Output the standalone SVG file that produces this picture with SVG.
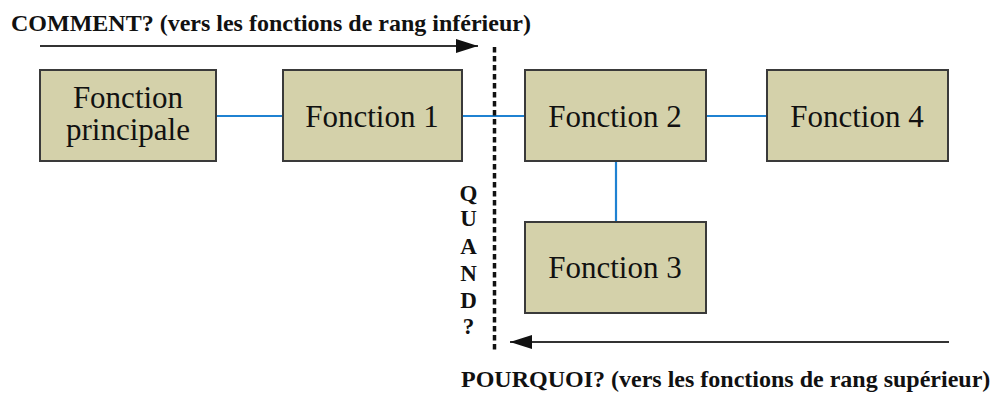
<svg xmlns="http://www.w3.org/2000/svg" width="992" height="394" viewBox="0 0 992 394">
<style>
.box{fill:#d4d1aa;stroke:#3a3a3a;stroke-width:2}
.lbl{font-family:"Liberation Serif","Times New Roman",serif;font-size:31px;fill:#111;text-anchor:middle}
.hdr{font-family:"Liberation Serif","Times New Roman",serif;font-size:24px;font-weight:bold;fill:#111}
.q{font-family:"Liberation Serif","Times New Roman",serif;font-size:23px;font-weight:bold;fill:#111;text-anchor:middle}
.conn{stroke:#1f82d2;stroke-width:2.2;fill:none}
.arr{stroke:#333;stroke-width:2;fill:none}
</style>
<defs>
<marker id="ah" viewBox="0 0 22 14" refX="22" refY="7" markerWidth="22" markerHeight="14" markerUnits="userSpaceOnUse" orient="auto">
<path d="M0,0 L22,7 L0,14 z" fill="#111"/>
</marker>
</defs>
<rect width="992" height="394" fill="#fff"/>
<g id="connectors">
<line class="conn" x1="216" y1="116" x2="283" y2="116"/>
<line class="conn" x1="462" y1="116" x2="525" y2="116"/>
<line class="conn" x1="706" y1="116" x2="767" y2="116"/>
<line class="conn" x1="616" y1="161" x2="616" y2="222"/>
</g>
<g id="comment-arrow">
<text class="hdr" x="11" y="31">COMMENT? (vers les fonctions de rang inférieur)</text>
<line class="arr" x1="40" y1="46" x2="478" y2="46" marker-end="url(#ah)"/>
</g>
<g id="divider">
<line x1="494.5" y1="47" x2="494.5" y2="352" stroke="#111" stroke-width="3.5" stroke-dasharray="5.5,3.5"/>
<text class="q" x="468.5" y="201">Q</text>
<text class="q" x="468.5" y="226">U</text>
<text class="q" x="468.5" y="254">A</text>
<text class="q" x="468.5" y="281">N</text>
<text class="q" x="468.5" y="308">D</text>
<text class="q" x="468.5" y="334">?</text>
</g>
<g id="fp">
<rect class="box" x="40" y="70" width="176" height="91"/>
<text class="lbl" x="128" y="108">Fonction</text>
<text class="lbl" x="128" y="140">principale</text>
</g>
<g id="f1">
<rect class="box" x="283" y="70" width="179" height="91"/>
<text class="lbl" x="372" y="127">Fonction 1</text>
</g>
<g id="f2">
<rect class="box" x="525" y="70" width="181" height="91"/>
<text class="lbl" x="615" y="127">Fonction 2</text>
</g>
<g id="f4">
<rect class="box" x="767" y="70" width="181" height="91"/>
<text class="lbl" x="857" y="127">Fonction 4</text>
</g>
<g id="f3">
<rect class="box" x="525" y="222" width="181" height="91"/>
<text class="lbl" x="615" y="278">Fonction 3</text>
</g>
<g id="pourquoi-arrow">
<line class="arr" x1="949" y1="342" x2="510" y2="342" marker-end="url(#ah)"/>
<text class="hdr" x="461" y="387">POURQUOI? (vers les fonctions de rang supérieur)</text>
</g>
</svg>
